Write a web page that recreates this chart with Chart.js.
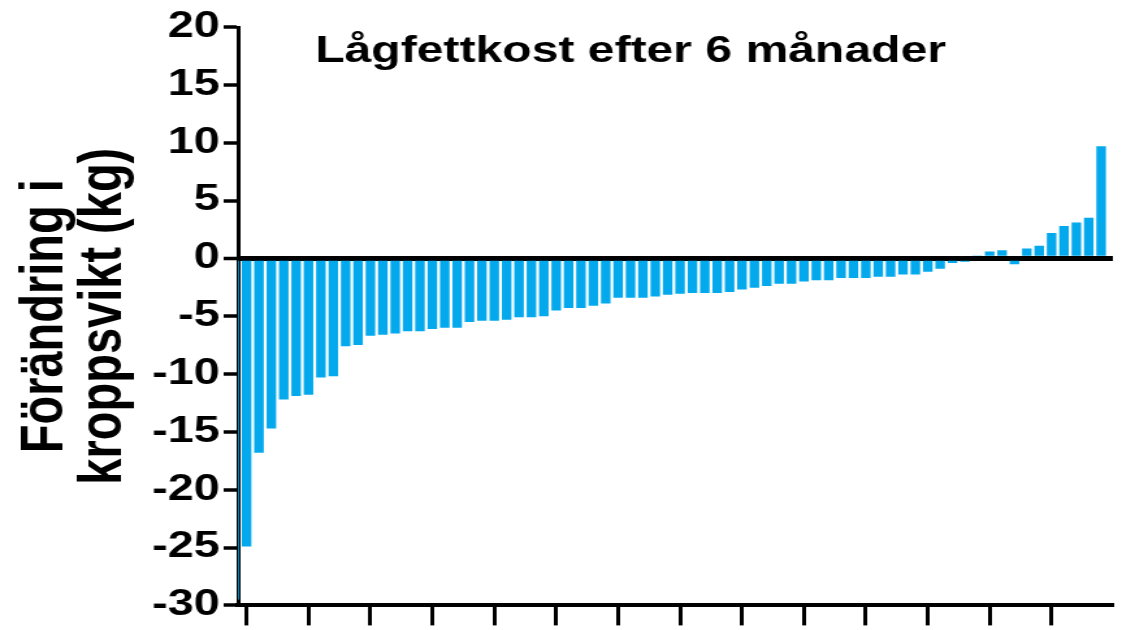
<!DOCTYPE html>
<html lang="sv">
<head>
<meta charset="utf-8">
<title>Lågfettkost efter 6 månader</title>
<script src="https://cdn.jsdelivr.net/npm/chart.js@4.4.0/dist/chart.umd.min.js"></script>
<style>
  html, body { margin: 0; padding: 0; background: #fff; overflow: hidden; }
  #chart { display: block; }
</style>
</head>
<body>
<!-- drawn narrow, shown wide -->
<canvas id="chart" width="863" height="630" style="width:1122px;height:630px"></canvas>
<script>
// Viktförändring per deltagare (kg), sorterad
const barValues = [
  -29.5, -24.9, -16.8, -14.7, -12.2, -11.9, -11.8, -10.3, -10.2, -7.6,
  -7.5, -6.7, -6.6, -6.5, -6.3, -6.3, -6.1, -6.0, -6.0, -5.5,
  -5.4, -5.4, -5.3, -5.1, -5.1, -5.0, -4.5, -4.3, -4.3, -4.1,
  -3.9, -3.4, -3.4, -3.4, -3.3, -3.15, -3.05, -3.0, -3.0, -3.0,
  -2.9, -2.7, -2.55, -2.4, -2.2, -2.2, -2.0, -1.9, -1.9, -1.7,
  -1.7, -1.7, -1.6, -1.6, -1.4, -1.4, -1.15, -0.9, -0.4, -0.3,
  0.2, 0.6, 0.7, -0.5, 0.85, 1.1, 2.2, 2.8, 3.1, 3.5,
  9.7
];
const yTicks = [20, 15, 10, 5, 0, -5, -10, -15, -20, -25, -30];
const xTickBars = [1, 6, 11, 16, 21, 26, 31, 36, 41, 46, 51, 56, 61, 66];

const chartTitle = 'Lågfettkost efter 6 månader';
const yTitle = ['Förändring i', 'kroppsvikt (kg)'];

const fontFamily = '"Liberation Sans", Arial, sans-serif';
const barColor = '#03A9EC';

// rubriken ligger inne i ritytan, så den ritas för hand
const titlePlugin = {
  id: 'innerTitle',
  afterDraw(chart) {
    const ctx = chart.ctx;
    ctx.save();
    ctx.font = 'bold 37px ' + fontFamily;
    ctx.fillStyle = '#000';
    ctx.textAlign = 'center';
    ctx.textBaseline = 'alphabetic';
    ctx.fillText(chartTitle, 485, 62);
    ctx.restore();
  }
};

new Chart(document.getElementById('chart'), {
  type: 'bar',
  data: {
    datasets: [{
      data: barValues.map((v, i) => ({ x: i, y: v })),
      backgroundColor: barColor,
      borderWidth: 0,
      barPercentage: 0.77,
      categoryPercentage: 1
    }]
  },
  options: {
    responsive: false,
    animation: false,
    devicePixelRatio: 1,
    layout: { padding: { top: 27, right: 7, left: 0, bottom: 0 } },
    plugins: {
      legend: { display: false },
      tooltip: { enabled: false }
    },
    scales: {
      x: {
        type: 'linear',
        min: 0.3,
        max: 70.95,
        offset: false,
        z: 1,
        afterBuildTicks: (scale) => { scale.ticks = xTickBars.map(v => ({ value: v })); },
        afterFit: (scale) => { scale.height = 23; },
        ticks: { display: false },
        grid: {
          offset: false,
          drawOnChartArea: false,
          drawTicks: true,
          tickLength: 20,
          tickWidth: 3,
          tickColor: '#000'
        },
        border: { display: true, color: '#000', width: 4 }
      },
      y: {
        min: -30,
        max: 20,
        z: 1,
        afterBuildTicks: (scale) => { scale.ticks = yTicks.map(v => ({ value: v })); },
        afterFit: (scale) => { scale.width = 183; },
        ticks: {
          color: '#000',
          padding: 3,
          font: { family: fontFamily, size: 36, weight: 'bold' }
        },
        grid: {
          drawOnChartArea: true,
          color: (c) => (c.tick && c.tick.value === 0 ? '#000' : 'rgba(0,0,0,0)'),
          lineWidth: (c) => (c.tick && c.tick.value === 0 ? 5 : 0),
          tickLength: 11,
          tickWidth: 3.5,
          tickColor: '#000'
        },
        border: { display: true, color: '#000', width: 3 },
        title: {
          display: true,
          text: yTitle,
          color: '#000',
          padding: { top: 13, bottom: 0 },
          font: { family: fontFamily, size: 47, weight: 'bold', lineHeight: '45px' }
        }
      }
    }
  },
  plugins: [titlePlugin]
});
</script>
</body>
</html>
